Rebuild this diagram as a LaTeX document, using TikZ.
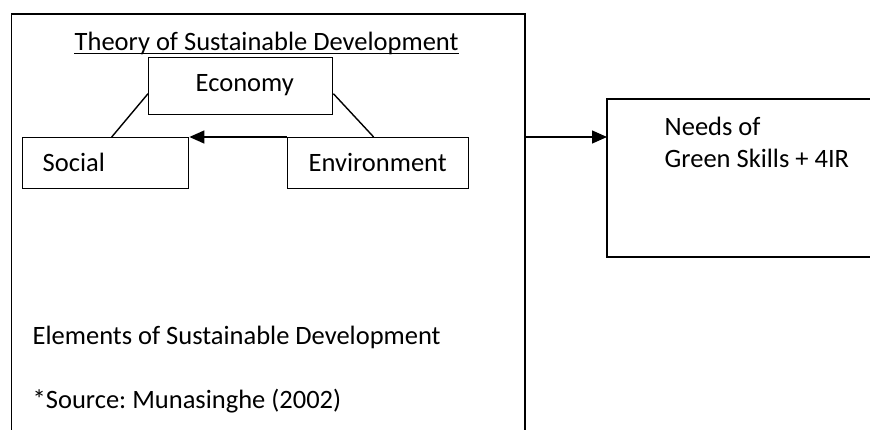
\documentclass[tikz,border=0pt]{standalone}
\usepackage{fontspec}
\setmainfont{Carlito}
\frenchspacing
\usetikzlibrary{arrows.meta,calc}
\begin{document}
\begin{tikzpicture}[x=1pt,y=-1pt,
  line width=1.4pt,
  box/.style={draw,rectangle,inner sep=0pt,anchor=north west},
  txt/.style={inner sep=0pt,anchor=base west,font=\fontsize{26.5}{32}\selectfont},
  arr/.style={-{Triangle[length=15pt,width=13pt]}}]
\useasboundingbox (0,0) rectangle (870,430);
% outer frame (bottom cut off)
\draw (11.7,431) -- (11.7,14) -- (525,14) -- (525,431);
\coordinate (outR) at (525,137);
% title
\node[txt] (title) at (74,51) {Theory of Sustainable Development};
\draw[line width=1.2pt] ([yshift=-2.5pt]title.base west) -- ([yshift=-2.5pt]title.base east);
% boxes
\node[box,minimum width=184pt,minimum height=57pt] (eco) at (148,57) {};
\node[txt] (ecot) at (195,91.7) {Economy};
\node[box,minimum width=166pt,minimum height=51pt] (soc) at (22,137) {};
\node[txt] (soct) at (42,171.7) {Social};
\node[box,minimum width=181pt,minimum height=51pt] (env) at (287,137) {};
\node[txt] (envt) at (308,171.7) {Environment};
% connectors
\draw ([yshift=-7.5pt]eco.west) -- ($(soc.north west)!0.536!(soc.north east)$);
\draw ([yshift=-7.5pt]eco.east) -- ($(env.north west)!0.475!(env.north east)$);
\draw[arr] (env.north west) -- (soc.north east);
% needs box (right edge cut off)
\draw (871,99) -- (607,99) -- (607,257) -- (871,257);
\coordinate (needL) at (607,137);
\node[txt] (need1) at (664,136) {Needs of};
\node[txt] (need2) at (664,168) {Green Skills + 4IR};
\draw[arr] (outR) -- (needL);
% bottom texts
\node[txt] (elem) at (32,344) {Elements of Sustainable Development};
\node[txt] (src) at (32,408) {*Source: Munasinghe (2002)};
\end{tikzpicture}
\end{document}
